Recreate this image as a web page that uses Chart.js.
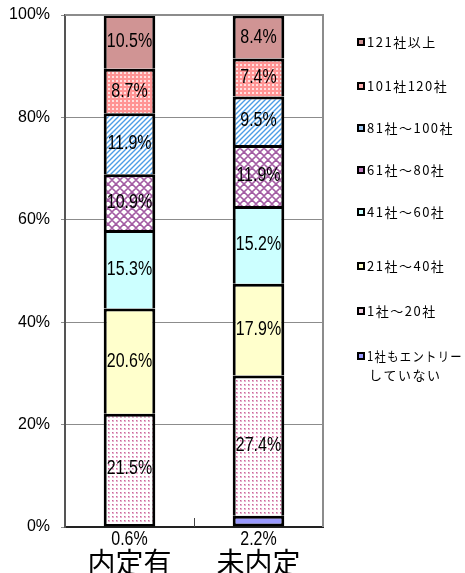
<!DOCTYPE html>
<html>
<head>
<meta charset="utf-8">
<script src="https://cdn.jsdelivr.net/npm/chart.js@4/dist/chart.umd.min.js"></script>
<style>
  body { margin: 0; background: #fff; }
  #wrap { width: 465px; height: 573px; position: relative; }
</style>
</head>
<body>
<div id="wrap"><canvas id="chart"></canvas></div>
<script>
const categories = ['内定有', '未内定'];
const seriesNames = ['1社もエントリー\nしていない', '1社～20社', '21社～40社', '41社～60社', '61社～80社', '81社～100社', '101社120社', '121社以上'];
const naiteiAri = [0.6, 21.5, 20.6, 15.3, 10.9, 11.9, 8.7, 10.5];
const minaitei = [2.2, 27.4, 17.9, 15.2, 11.9, 9.5, 7.4, 8.4];
const yTicks = [0, 20, 40, 60, 80, 100];

function makeTile(size, draw) {
    const c = document.createElement('canvas');
    c.width = size;
    c.height = size;
    const g = c.getContext('2d');
    g.fillStyle = '#fff';
    g.fillRect(0, 0, size, size);
    draw(g, size);
    return document.createElement('canvas').getContext('2d').createPattern(c, 'repeat');
}

const dots = makeTile(4, (g) => {
    g.fillStyle = '#e6b3cf';
    g.fillRect(0, 0, 2, 2);
    g.fillStyle = '#cc6699';
    g.fillRect(0, 0, 1, 1);
});
const lattice = makeTile(8, (g) => {
    g.strokeStyle = '#a35ca3';
    g.lineWidth = 1.6;
    g.beginPath();
    g.moveTo(0, 4); g.lineTo(4, 0); g.lineTo(8, 4); g.lineTo(4, 8); g.closePath();
    g.stroke();
});
const stripes = makeTile(5, (g, s) => {
    g.strokeStyle = '#4d9de6';
    g.lineWidth = 1.4;
    g.beginPath();
    g.moveTo(-1, s + 1); g.lineTo(s + 1, -1);
    g.moveTo(-1, 1); g.lineTo(1, -1);
    g.moveTo(s - 1, s + 1); g.lineTo(s + 1, s - 1);
    g.stroke();
});
const checks = makeTile(4, (g) => {
    g.fillStyle = '#ff9494';
    g.fillRect(0, 0, 4, 4);
    g.fillStyle = '#ffe0e0';
    g.fillRect(0, 0, 2, 2);
});

const fills = ['#9999ff', dots, '#ffffcc', '#ccffff', lattice, stripes, checks, '#d09494'];
const swatches = ['#9999ff', '#f0d0e0', '#ffffcc', '#ccffff', '#c080c0', '#a0c8f0', '#ffb0b0', '#d09494'];

const datasets = seriesNames.map((name, i) => ({
    label: name,
    data: [naiteiAri[i], minaitei[i]],
    backgroundColor: fills[i],
    borderColor: '#000',
    borderWidth: i === 0 ? { top: 3, left: 3, right: 3, bottom: 3 } : { top: 3, left: 3, right: 3, bottom: 0 },
    borderSkipped: false,
    categoryPercentage: 1,
    barPercentage: 0.4
}));

// value labels, frame and legend drawn on top
const extras = {
    id: 'extras',
    afterDatasetsDraw(chart) {
        const ctx = chart.ctx;
        const area = chart.chartArea;
        ctx.save();
        ctx.fillStyle = '#000';
        ctx.textAlign = 'center';
        ctx.textBaseline = 'middle';
        ctx.font = '20px "Liberation Sans", Arial, sans-serif';
        chart.data.datasets.forEach((ds, di) => {
            chart.getDatasetMeta(di).data.forEach((bar, j) => {
                const v = ds.data[j];
                const y = v < 5 ? area.bottom + 12 : (bar.y + bar.base) / 2;
                ctx.save();
                ctx.translate(bar.x, y);
                ctx.scale(0.8, 1);
                ctx.fillText(v.toFixed(1) + '%', 0, 0);
                ctx.restore();
            });
        });

        // plot frame
        ctx.strokeStyle = '#8c8c8c';
        ctx.lineWidth = 2;
        ctx.beginPath();
        ctx.moveTo(area.left, area.top);
        ctx.lineTo(area.right, area.top);
        ctx.lineTo(area.right, area.bottom);
        ctx.stroke();
        ctx.strokeStyle = '#444';
        ctx.lineWidth = 1;
        const mid = Math.round((area.left + area.right) / 2) + 0.5;
        ctx.beginPath();
        ctx.moveTo(mid, area.bottom - 9);
        ctx.lineTo(mid, area.bottom);
        ctx.stroke();

        // legend
        const legendY = [356, 311, 266, 212, 170, 128, 86, 42];
        ctx.textAlign = 'left';
        ctx.font = '13px "Noto Sans CJK JP", sans-serif';
        ctx.letterSpacing = '1.5px';
        chart.data.datasets.forEach((ds, di) => {
            const y = legendY[di];
            ctx.fillStyle = '#000';
            ctx.fillRect(357, y - 4, 8, 8);
            ctx.fillStyle = swatches[di];
            ctx.fillRect(359, y - 2, 4, 4);
            ctx.fillStyle = '#000';
            ds.label.split('\n').forEach((line, k) => {
                ctx.fillText(line, 367 + (k ? 2 : 0), y + k * 19, 96);
            });
        });
        ctx.restore();
    }
};

new Chart(document.getElementById('chart'), {
    type: 'bar',
    data: { labels: categories, datasets },
    options: {
        responsive: true,
        maintainAspectRatio: false,
        animation: false,
        layout: { padding: { top: 15, right: 142, left: 0, bottom: 0 } },
        plugins: {
            legend: { display: false },
            tooltip: { enabled: false }
        },
        scales: {
            x: {
                stacked: true,
                afterFit: (s) => { s.height = 46; },
                grid: { display: false },
                border: { color: '#222', width: 2 },
                ticks: {
                    color: '#000',
                    padding: 11,
                    font: { family: '"Noto Sans CJK JP", sans-serif', size: 28 }
                }
            },
            y: {
                stacked: true,
                min: 0,
                max: 100,
                afterFit: (s) => {
                    s.width = 65;
                    s.paddingTop = 0;
                    s.paddingBottom = 0;
                },
                afterBuildTicks: (s) => { s.ticks = yTicks.map(v => ({ value: v })); },
                grid: { color: '#8c8c8c', lineWidth: 1, tickLength: 4 },
                border: { color: '#555', width: 2 },
                ticks: {
                    color: '#000',
                    padding: 11,
                    font: { family: '"Liberation Sans", Arial, sans-serif', size: 16 },
                    callback: (v) => v + '%'
                }
            }
        }
    },
    plugins: [extras]
});
</script>
</body>
</html>
